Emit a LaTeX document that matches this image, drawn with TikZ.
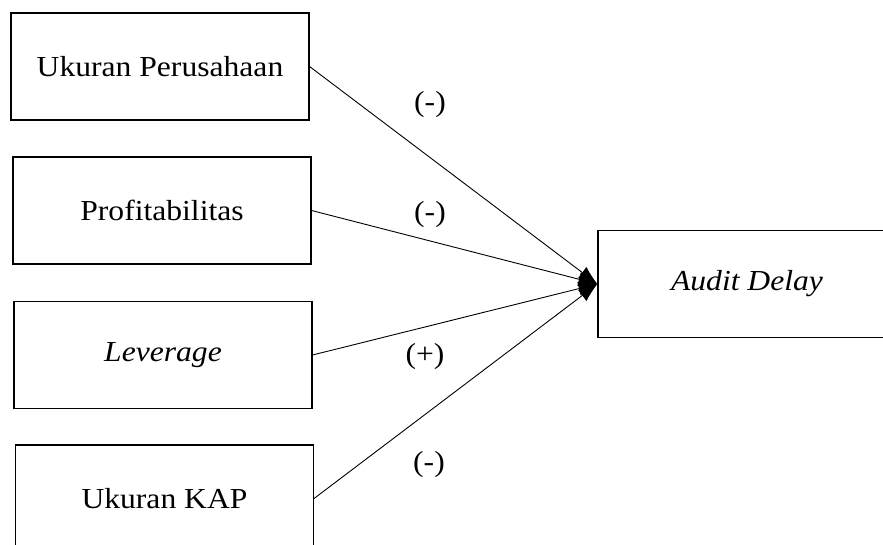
\documentclass[tikz,border=0pt]{standalone}
\usepackage{fontspec}
\setmainfont{Liberation Serif}[FakeStretch=1.09]
\usetikzlibrary{arrows.meta}
\begin{document}
\begin{tikzpicture}[x=1pt,y=-1pt,
  varbox/.style={draw, line width=1.1pt, minimum width=298pt, minimum height=107pt, inner sep=0pt,
    font=\fontsize{29}{35}\selectfont},
  conn/.style={line width=0.9pt, -{Latex[length=19pt,width=14pt]}},
  sign/.style={font=\fontsize{29}{35}\selectfont, inner sep=0pt}]
\clip (0,0) rectangle (883,545);
\useasboundingbox (0,0) rectangle (883,545);
\node[varbox] (b1) at (160,66.5) {Ukuran Perusahaan};
\node[varbox] (b2) at (162,210.5) {Profitabilitas};
\node[varbox] (b3) at (163,355) {\itshape Leverage};
\node[varbox] (b4) at (164.5,498.5) {Ukuran KAP};
\node[varbox] (ad) at (747,284) {\itshape Audit Delay};
\draw[conn] (b1.east) -- (ad.west);
\draw[conn] (b2.east) -- (ad.west);
\draw[conn] (b3.east) -- (ad.west);
\draw[conn] (b4.east) -- (ad.west);
\node[sign] (s1) at (430,105) {(-)};
\node[sign] (s2) at (430,215) {(-)};
\node[sign] (s3) at (425,357) {(+)};
\node[sign] (s4) at (429,465) {(-)};
\end{tikzpicture}
\end{document}
